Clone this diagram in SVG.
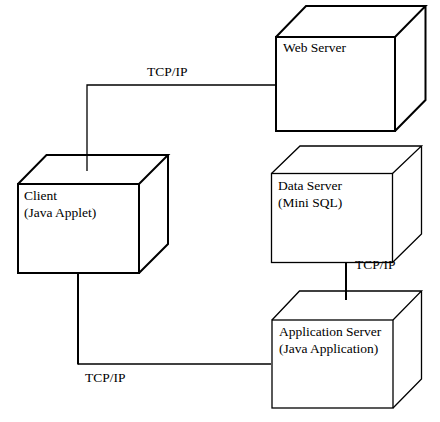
<svg xmlns="http://www.w3.org/2000/svg" width="440" height="422" viewBox="0 0 440 422">
<style>
.face{fill:none;stroke:#000;stroke-linejoin:miter}
.thick{stroke-width:2}
.thin{stroke-width:1.3}
.lbl{font-size:13.5px;fill:#000}
.conn{fill:none;stroke:#000}
</style>
<rect width="440" height="422" fill="#fff"/>
<g font-family="Liberation Serif, DejaVu Serif, Times New Roman, serif">
<g id="web-server">
<rect class="face thick" x="276" y="37" width="119" height="94"/>
<path class="face thick" d="M276,37 L306,6 L425.5,6 L395,37 M425.5,6 L425.5,100 L395,131"/>
<text class="lbl" x="283" y="52">Web Server</text>
</g>
<g id="client">
<rect class="face thick" x="18" y="184" width="121" height="89"/>
<path class="face thick" d="M18,184 L46.5,155 L168,155 L139,184 M168,155 L168,244 L139,273"/>
<text class="lbl" x="24" y="200">Client</text>
<text class="lbl" x="24" y="217">(Java Applet)</text>
</g>
<g id="data-server">
<rect class="face thin" x="271.5" y="173.5" width="121" height="89"/>
<path class="face thin" d="M271.5,173.5 L300,146 L421.5,146 L392.5,173.5 M421.5,146 L421.5,234 L392.5,262.5"/>
<text class="lbl" x="278" y="190">Data Server</text>
<text class="lbl" x="278" y="207">(Mini SQL)</text>
</g>
<g id="application-server">
<rect class="face thin" x="272" y="320" width="121" height="88"/>
<path class="face thin" d="M272,320 L299.5,291 L421.5,291 L393,320 M421.5,291 L421.5,379 L393,408"/>
<text class="lbl" x="279" y="336">Application Server</text>
<text class="lbl" x="279" y="353">(Java Application)</text>
</g>
<g id="connectors">
<polyline class="conn" stroke-width="1.3" points="87,171 87,85 276,85"/>
<text class="lbl" x="147" y="76">TCP/IP</text>
<polyline class="conn" stroke-width="1.3" points="78,364 271,364"/>
<line class="conn" stroke-width="2" x1="78" y1="273" x2="78" y2="364.6"/>
<text class="lbl" x="85" y="382">TCP/IP</text>
<line class="conn" stroke-width="2" x1="346" y1="263" x2="346" y2="300"/>
<text class="lbl" x="355" y="269">TCP/IP</text>
</g>
</g>
</svg>
